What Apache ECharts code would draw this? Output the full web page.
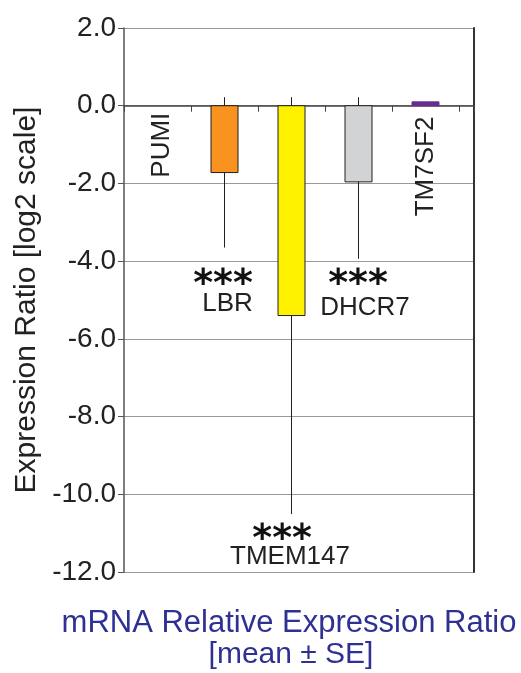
<!DOCTYPE html>
<html>
<head>
<meta charset="utf-8">
<script src="https://cdn.jsdelivr.net/npm/echarts@6/dist/echarts.min.js"></script>
<style>
html, body { margin: 0; padding: 0; background: #fff; }
#main { width: 521px; height: 673px; }
</style>
</head>
<body>
<div id="main"></div>
<script>
// data (log2 expression ratio, mean and SE whisker ends)
var genes = ['PUMI', 'LBR', 'TMEM147', 'DHCR7', 'TM7SF2'];
var ratios = [0, -1.72, -5.40, -1.96, 0.10];
var errTop = [null, 0.22, 0.22, 0.22, null];
var errBottom = [null, -3.65, -10.51, -3.94, null];
var stars = ['', '***', '***', '***', ''];
var yMin = -12, yMax = 2, yStep = 2;

// layout of the gene names / stars, in axis units
var nameX = [0.567, 1.545, 2.478, 3.597, 4.507];
var nameY = [-0.18, -5.10, -11.62, -5.20, -0.28];
var nameRotated = [true, false, false, false, true];
var starX = [null, 1.478, 2.36, 3.493, null];
var starY = [null, -4.62, -11.18, -4.62, null];

var barColors = ['#ffffff', '#f7931e', '#fff200', '#d1d3d4', '#662d91'];
var fontFam = '"Liberation Sans", Arial, sans-serif';
var ink = '#231f20';

var chart = echarts.init(document.getElementById('main'));

var errData = [], barData = [], nameData = [], starData = [];
for (var i = 0; i < genes.length; i++) {
    if (errTop[i] != null) errData.push([i + 0.5, errTop[i], errBottom[i]]);
    barData.push([i + 0.5, ratios[i], i]);
    nameData.push([nameX[i], nameY[i], i]);
    if (stars[i]) starData.push([starX[i], starY[i], i]);
}

var option = {
    animation: false,
    grid: { left: 124, top: 28, width: 350, height: 544 },
    xAxis: {
        type: 'value',
        min: 0,
        max: 350 / 67,
        interval: 1,
        axisLine: { onZero: true, lineStyle: { color: '#444', width: 1.5 } },
        axisTick: { show: true, length: 6, lineStyle: { color: '#444' } },
        axisLabel: { show: false },
        splitLine: { show: false }
    },
    yAxis: [{
        type: 'value',
        min: yMin,
        max: yMax,
        interval: yStep,
        axisLine: { show: true, lineStyle: { color: '#555', width: 1.5 } },
        axisTick: { show: true, length: 6, lineStyle: { color: '#555' } },
        axisLabel: {
            formatter: function (v) { return v.toFixed(1); },
            fontSize: 28, color: '#222', fontFamily: fontFam, margin: 8
        },
        splitLine: { lineStyle: { color: '#999', width: 1 } },
        name: 'Expression Ratio [log2 scale]',
        nameLocation: 'middle',
        nameGap: 80,
        nameTextStyle: { fontSize: 30, color: '#222', fontFamily: fontFam }
    }, {
        type: 'value',
        position: 'right',
        min: yMin,
        max: yMax,
        interval: yStep,
        axisLine: { show: true, lineStyle: { color: '#333', width: 2 } },
        axisTick: { show: false },
        axisLabel: { show: false },
        splitLine: { show: false }
    }],
    graphic: [{
        type: 'text', x: 289, y: 623,
        style: {
            text: 'mRNA Relative Expression Ratio', fill: '#2e3192',
            font: '31px ' + fontFam, align: 'center', verticalAlign: 'middle',
            textAlign: 'center', textVerticalAlign: 'middle'
        }
    }, {
        type: 'text', x: 291, y: 655,
        style: {
            text: '[mean \u00b1 SE]', fill: '#2e3192',
            font: '30px ' + fontFam, align: 'center', verticalAlign: 'middle',
            textAlign: 'center', textVerticalAlign: 'middle'
        }
    }],
    series: [{
        type: 'custom',
        name: 'SE',
        z: 3,
        data: errData,
        renderItem: function (params, api) {
            var a = api.coord([api.value(0), api.value(1)]);
            var b = api.coord([api.value(0), api.value(2)]);
            return {
                type: 'line',
                shape: { x1: a[0], y1: a[1], x2: b[0], y2: b[1] },
                style: { stroke: ink, lineWidth: 1 }
            };
        }
    }, {
        type: 'custom',
        name: 'ratio',
        z: 4,
        data: barData,
        renderItem: function (params, api) {
            var v = api.value(1);
            if (!v) return null;
            var idx = api.value(2);
            var p0 = api.coord([api.value(0), 0]);
            var p1 = api.coord([api.value(0), v]);
            var purple = idx === 4;
            return {
                type: 'rect',
                shape: { x: p0[0] - 13.5, y: Math.min(p0[1], p1[1]), width: 27, height: Math.abs(p1[1] - p0[1]) },
                style: { fill: barColors[idx], stroke: purple ? barColors[idx] : ink, lineWidth: 1 }
            };
        }
    }, {
        type: 'custom',
        name: 'names',
        z: 5,
        data: nameData,
        renderItem: function (params, api) {
            var idx = api.value(2);
            var p = api.coord([api.value(0), api.value(1)]);
            var rot = nameRotated[idx];
            return {
                type: 'text',
                x: p[0], y: p[1],
                rotation: rot ? Math.PI / 2 : 0,
                style: {
                    text: genes[idx], fill: '#222', font: '26px ' + fontFam,
                    align: rot ? 'right' : 'center', verticalAlign: 'middle',
                    textAlign: rot ? 'right' : 'center', textVerticalAlign: 'middle'
                }
            };
        }
    }, {
        type: 'custom',
        name: 'stars',
        z: 5,
        data: starData,
        renderItem: function (params, api) {
            var idx = api.value(2);
            var p = api.coord([api.value(0), api.value(1)]);
            return {
                type: 'text',
                x: p[0], y: p[1],
                style: {
                    text: stars[idx], fill: '#111', font: 'bold 38px "DejaVu Sans", sans-serif',
                    align: 'center', verticalAlign: 'middle',
                    textAlign: 'center', textVerticalAlign: 'middle'
                }
            };
        }
    }]
};

chart.setOption(option);
</script>
</body>
</html>
